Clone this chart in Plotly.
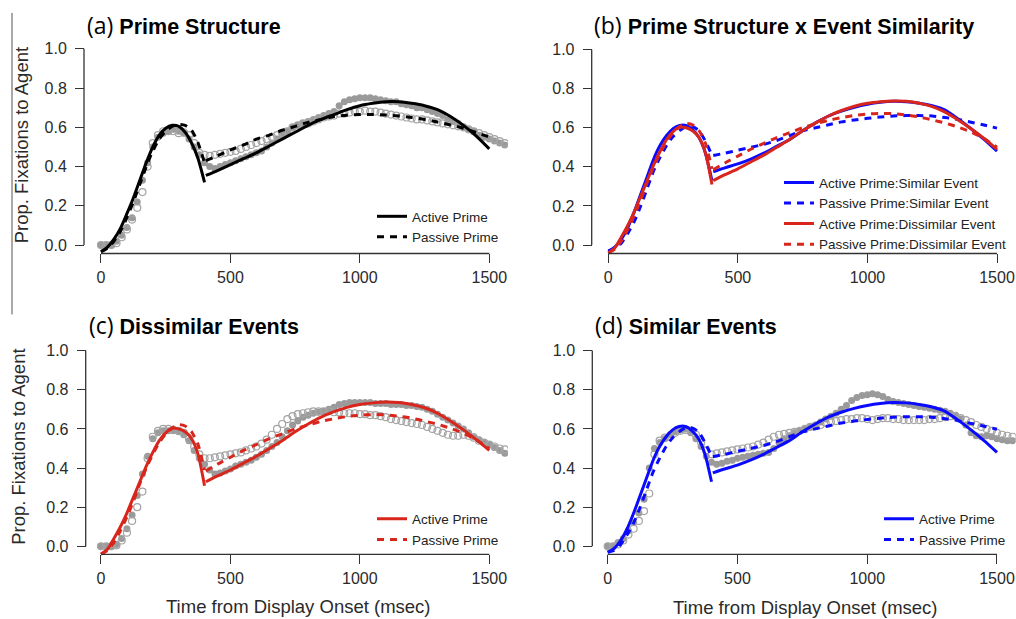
import plotly.graph_objects as go

W, H = 1016, 619

# ---------------- data ----------------
# model-fit time grid (two growth-curve segments, before / after 400 ms)
t_early = [0, 25, 50, 75, 100, 125, 150, 175, 200, 225, 250, 275, 300, 325, 350, 375, 400]
t_late = [405, 450, 500, 550, 600, 650, 700, 750, 800, 850, 900, 950, 1000,
          1050, 1100, 1150, 1200, 1250, 1300, 1350, 1400, 1450, 1500]

# (a) overall
active_all_early = [-0.034, -0.01, 0.03, 0.085, 0.16, 0.24, 0.33, 0.42, 0.50, 0.56, 0.595, 0.61, 0.605, 0.575, 0.52, 0.44, 0.32]
active_all_late = [0.355, 0.38, 0.41, 0.44, 0.47, 0.505, 0.54, 0.575, 0.61, 0.64, 0.665, 0.69, 0.71, 0.722, 0.73, 0.73, 0.722, 0.71, 0.69, 0.655, 0.61, 0.555, 0.49]
passive_all_early = [-0.034, -0.015, 0.02, 0.07, 0.14, 0.22, 0.31, 0.40, 0.48, 0.54, 0.58, 0.605, 0.615, 0.61, 0.585, 0.52, 0.42]
passive_all_late = [0.43, 0.455, 0.485, 0.51, 0.54, 0.56, 0.585, 0.605, 0.625, 0.64, 0.655, 0.662, 0.665, 0.665, 0.663, 0.658, 0.65, 0.64, 0.627, 0.612, 0.595, 0.573, 0.55]

# similar events
active_sim_early = [-0.03, -0.01, 0.03, 0.09, 0.17, 0.26, 0.35, 0.44, 0.51, 0.56, 0.595, 0.612, 0.612, 0.59, 0.55, 0.47, 0.33]
active_sim_late = [0.375, 0.395, 0.415, 0.44, 0.47, 0.505, 0.54, 0.585, 0.625, 0.66, 0.685, 0.705, 0.72, 0.73, 0.735, 0.733, 0.725, 0.712, 0.69, 0.645, 0.595, 0.54, 0.48]
passive_sim_early = [-0.03, -0.02, 0.01, 0.06, 0.12, 0.20, 0.29, 0.38, 0.45, 0.51, 0.555, 0.585, 0.605, 0.605, 0.585, 0.53, 0.46]
passive_sim_late = [0.458, 0.47, 0.485, 0.50, 0.515, 0.535, 0.56, 0.585, 0.60, 0.615, 0.63, 0.64, 0.648, 0.655, 0.66, 0.662, 0.662, 0.66, 0.652, 0.642, 0.628, 0.614, 0.598]

# dissimilar events
active_dis_early = [-0.04, -0.015, 0.04, 0.10, 0.17, 0.25, 0.33, 0.41, 0.48, 0.54, 0.58, 0.603, 0.60, 0.585, 0.55, 0.47, 0.31]
active_dis_late = [0.33, 0.36, 0.39, 0.425, 0.46, 0.50, 0.54, 0.585, 0.625, 0.66, 0.688, 0.71, 0.725, 0.733, 0.737, 0.735, 0.725, 0.708, 0.68, 0.64, 0.595, 0.545, 0.49]
passive_dis_early = [-0.04, -0.02, 0.02, 0.08, 0.15, 0.23, 0.32, 0.40, 0.47, 0.53, 0.575, 0.605, 0.622, 0.615, 0.585, 0.52, 0.39]
passive_dis_late = [0.385, 0.42, 0.455, 0.49, 0.52, 0.55, 0.575, 0.60, 0.62, 0.638, 0.652, 0.663, 0.67, 0.673, 0.672, 0.665, 0.655, 0.64, 0.624, 0.603, 0.578, 0.545, 0.50]

# observed proportions (20 ms bins, 0..1560 ms)
t_points = list(range(0, 1561, 20))

obs_active_all = [
    0.0, 0.0, 0.0, 0.02, 0.05, 0.09, 0.14, 0.22, 0.33, 0.42,
    0.50, 0.55, 0.57, 0.58, 0.59, 0.58, 0.57, 0.54, 0.50, 0.46,
    0.42, 0.40, 0.39, 0.40, 0.41, 0.42, 0.43, 0.44, 0.45, 0.46,
    0.47, 0.48, 0.50, 0.52, 0.54, 0.56, 0.58, 0.60, 0.61, 0.62,
    0.63, 0.64, 0.65, 0.66, 0.67, 0.68, 0.71, 0.73, 0.74, 0.745,
    0.75, 0.75, 0.75, 0.745, 0.74, 0.735, 0.73, 0.73, 0.72, 0.715,
    0.71, 0.70, 0.70, 0.69, 0.68, 0.67, 0.66, 0.64, 0.63, 0.62,
    0.60, 0.59, 0.58, 0.56, 0.55, 0.54, 0.53, 0.52, 0.51]
obs_passive_all = [
    0.0, 0.0, 0.0, 0.01, 0.04, 0.08, 0.13, 0.19, 0.27, 0.40,
    0.52, 0.56, 0.58, 0.58, 0.58, 0.57, 0.575, 0.56, 0.52, 0.47,
    0.46, 0.455, 0.46, 0.465, 0.47, 0.475, 0.48, 0.49, 0.50, 0.51,
    0.52, 0.53, 0.54, 0.55, 0.56, 0.57, 0.58, 0.60, 0.61, 0.62,
    0.62, 0.63, 0.64, 0.65, 0.655, 0.66, 0.67, 0.67, 0.675, 0.68,
    0.68, 0.685, 0.68, 0.68, 0.675, 0.67, 0.665, 0.66, 0.655, 0.65,
    0.645, 0.64, 0.64, 0.635, 0.63, 0.625, 0.62, 0.615, 0.61, 0.605,
    0.60, 0.59, 0.58, 0.57, 0.56, 0.55, 0.54, 0.53, 0.52]
obs_active_dis = [
    0.0, 0.0, 0.0, 0.01, 0.04, 0.09, 0.16, 0.26, 0.37, 0.46,
    0.55, 0.58, 0.59, 0.59, 0.59, 0.585, 0.57, 0.54, 0.49, 0.45,
    0.42, 0.39, 0.37, 0.375, 0.385, 0.395, 0.41, 0.42, 0.43, 0.44,
    0.455, 0.47, 0.49, 0.51, 0.53, 0.56, 0.59, 0.62, 0.64, 0.66,
    0.67, 0.68, 0.685, 0.69, 0.70, 0.71, 0.725, 0.73, 0.735, 0.735,
    0.735, 0.735, 0.735, 0.73, 0.73, 0.73, 0.725, 0.725, 0.725, 0.72,
    0.72, 0.715, 0.71, 0.70, 0.69, 0.675, 0.66, 0.645, 0.63, 0.615,
    0.60, 0.58, 0.56, 0.545, 0.53, 0.52, 0.505, 0.49, 0.475]
obs_passive_dis = [
    0.0, 0.0, 0.0, 0.005, 0.03, 0.07, 0.13, 0.20, 0.28, 0.45,
    0.56, 0.59, 0.60, 0.60, 0.595, 0.59, 0.58, 0.55, 0.51, 0.47,
    0.45, 0.45, 0.455, 0.46, 0.465, 0.47, 0.475, 0.48, 0.49, 0.50,
    0.51, 0.525, 0.545, 0.57, 0.60, 0.625, 0.65, 0.665, 0.675, 0.68,
    0.685, 0.69, 0.69, 0.69, 0.69, 0.685, 0.685, 0.68, 0.68, 0.68,
    0.675, 0.675, 0.67, 0.67, 0.665, 0.66, 0.65, 0.645, 0.64, 0.635,
    0.63, 0.625, 0.62, 0.61, 0.60, 0.59, 0.58, 0.57, 0.565, 0.565,
    0.57, 0.565, 0.555, 0.54, 0.53, 0.52, 0.51, 0.50, 0.495]
obs_active_sim = [
    0.0, 0.0, 0.02, 0.04, 0.08, 0.12, 0.17, 0.24, 0.40, 0.50,
    0.53, 0.55, 0.57, 0.585, 0.595, 0.60, 0.58, 0.55, 0.51, 0.46,
    0.43, 0.42, 0.425, 0.435, 0.44, 0.45, 0.455, 0.46, 0.465, 0.47,
    0.475, 0.48, 0.50, 0.53, 0.55, 0.565, 0.58, 0.59, 0.60, 0.61,
    0.62, 0.635, 0.65, 0.665, 0.68, 0.70, 0.72, 0.745, 0.76, 0.77,
    0.775, 0.78, 0.775, 0.765, 0.75, 0.74, 0.735, 0.73, 0.725, 0.72,
    0.715, 0.71, 0.705, 0.70, 0.695, 0.69, 0.68, 0.67, 0.65, 0.62,
    0.58, 0.565, 0.56, 0.565, 0.56, 0.55, 0.545, 0.54, 0.54]
obs_passive_sim = [
    0.0, 0.0, 0.01, 0.03, 0.06, 0.09, 0.13, 0.18, 0.27, 0.47,
    0.54, 0.555, 0.56, 0.58, 0.59, 0.595, 0.59, 0.57, 0.53, 0.49,
    0.47, 0.475, 0.48, 0.485, 0.49, 0.495, 0.50, 0.505, 0.51, 0.52,
    0.53, 0.545, 0.56, 0.57, 0.575, 0.58, 0.585, 0.59, 0.60, 0.61,
    0.615, 0.62, 0.63, 0.635, 0.64, 0.645, 0.65, 0.65, 0.655, 0.655,
    0.65, 0.645, 0.65, 0.655, 0.655, 0.65, 0.65, 0.645, 0.645, 0.645,
    0.645, 0.645, 0.65, 0.65, 0.655, 0.66, 0.665, 0.665, 0.655, 0.645,
    0.635, 0.62, 0.61, 0.60, 0.59, 0.58, 0.57, 0.565, 0.56]

x_ticks = [0, 500, 1000, 1500]
y_ticks = [0.0, 0.2, 0.4, 0.6, 0.8, 1.0]
y_ticktext = ["0.0", "0.2", "0.4", "0.6", "0.8", "1.0"]

titles = [("(a)", "Prime Structure"),
          ("(b)", "Prime Structure x Event Similarity"),
          ("(c)", "Dissimilar Events"),
          ("(d)", "Similar Events")]
y_title = "Prop. Fixations to Agent"
x_title = "Time from Display Onset (msec)"

# ---------------- styling / layout ----------------
FONT = "Liberation Sans, Arial, sans-serif"
BLACK = "#000000"
BLUE = "#0a0aff"
RED = "#d8261d"
GREY_FILL = "#9a9a9a"
GREY_OPEN = "#a4a4a4"
AX_COL = "#333333"
X_RANGE = [-60, 1572]
Y_RANGE = [-0.07, 1.03]

# pixel anchors of each panel: t=0, t=1500, v=0, v=1, y-axis x, x-axis y, title pos
panels = [
    dict(px0=101.0, px1=489.3, py0=243.3, py1=46.0, yax=84.0, xax=251.7, tx=85, ty=21.7),
    dict(px0=608.3, px1=997.0, py0=243.3, py1=46.7, yax=591.7, xax=251.7, tx=591.5, ty=21.7),
    dict(px0=101.0, px1=489.3, py0=546.0, py1=349.3, yax=85.7, xax=554.0, tx=87, ty=324),
    dict(px0=607.7, px1=997.0, py0=546.0, py1=349.3, yax=592.3, xax=554.0, tx=593, ty=324),
]


def x_domain(p):
    s = (p["px1"] - p["px0"]) / 1500.0
    return [(p["px0"] + X_RANGE[0] * s) / W, (p["px0"] + X_RANGE[1] * s) / W]


def y_domain(p):
    s = p["py0"] - p["py1"]
    bottom = p["py0"] - Y_RANGE[0] * s
    top = p["py0"] - Y_RANGE[1] * s
    return [(H - bottom) / H, (H - top) / H]


fig = go.Figure()


def add_points(vals, filled, k):
    sfx = "" if k == 1 else str(k)
    if filled:
        marker = dict(symbol="circle", size=7, color=GREY_FILL)
    else:
        marker = dict(symbol="circle-open", size=7, color=GREY_OPEN, line=dict(width=1.2, color=GREY_OPEN))
    fig.add_trace(go.Scatter(x=t_points, y=vals, mode="markers", marker=marker,
                             showlegend=False, hoverinfo="skip",
                             xaxis="x" + sfx, yaxis="y" + sfx))


def add_line(early, late, name, color, dashed, k):
    sfx = "" if k == 1 else str(k)
    fig.add_trace(go.Scatter(
        x=t_early + [None] + t_late, y=early + [None] + late,
        mode="lines", name=name,
        line=dict(color=color, width=3, dash="7px,6px" if dashed else "solid",
                  shape="spline", smoothing=0.6),
        xaxis="x" + sfx, yaxis="y" + sfx, legend="legend" + sfx))


# (a)
add_points(obs_active_all, True, 1)
add_points(obs_passive_all, False, 1)
add_line(active_all_early, active_all_late, "Active Prime", BLACK, False, 1)
add_line(passive_all_early, passive_all_late, "Passive Prime", BLACK, True, 1)
# (b)
add_line(active_sim_early, active_sim_late, "Active Prime:Similar Event", BLUE, False, 2)
add_line(passive_sim_early, passive_sim_late, "Passive Prime:Similar Event", BLUE, True, 2)
add_line(active_dis_early, active_dis_late, "Active Prime:Dissimilar Event", RED, False, 2)
add_line(passive_dis_early, passive_dis_late, "Passive Prime:Dissimilar Event", RED, True, 2)
# (c)
add_points(obs_active_dis, True, 3)
add_points(obs_passive_dis, False, 3)
add_line(active_dis_early, active_dis_late, "Active Prime", RED, False, 3)
add_line(passive_dis_early, passive_dis_late, "Passive Prime", RED, True, 3)
# (d)
add_points(obs_active_sim, True, 4)
add_points(obs_passive_sim, False, 4)
add_line(active_sim_early, active_sim_late, "Active Prime", BLUE, False, 4)
add_line(passive_sim_early, passive_sim_late, "Passive Prime", BLUE, True, 4)

layout = dict(width=W, height=H, margin=dict(l=0, r=0, t=0, b=0),
              paper_bgcolor="white", plot_bgcolor="white",
              font=dict(family=FONT, color="#222222"))
shapes = []
annotations = []

legend_pos = [(372, 199), (779, 165), (372, 503), (879, 503)]

for i, p in enumerate(panels):
    k = i + 1
    sfx = "" if k == 1 else str(k)
    layout["xaxis" + sfx] = dict(
        domain=x_domain(p), range=X_RANGE, anchor="free", position=(H - p["xax"]) / H,
        showgrid=False, zeroline=False, showline=False,
        tickvals=x_ticks, ticks="outside", ticklen=9, tickwidth=1.3, tickcolor=AX_COL,
        ticklabelstandoff=0,
        tickfont=dict(family=FONT, size=16, color="#2a2a2a"), fixedrange=True)
    layout["yaxis" + sfx] = dict(
        domain=y_domain(p), range=Y_RANGE, anchor="free", position=p["yax"] / W,
        showgrid=False, zeroline=False, showline=False,
        tickvals=y_ticks, ticktext=y_ticktext, ticks="outside", ticklen=9, tickwidth=1.3,
        ticklabelstandoff=5,
        tickcolor=AX_COL, tickfont=dict(family=FONT, size=16, color="#2a2a2a"), fixedrange=True)
    # R-style detached axis lines spanning the tick range
    shapes.append(dict(type="line", xref="x" + sfx, yref="paper",
                       x0=x_ticks[0], x1=x_ticks[-1],
                       y0=(H - p["xax"]) / H, y1=(H - p["xax"]) / H,
                       line=dict(color=AX_COL, width=1.3)))
    shapes.append(dict(type="line", xref="paper", yref="y" + sfx,
                       x0=p["yax"] / W, x1=p["yax"] / W,
                       y0=y_ticks[0], y1=y_ticks[-1],
                       line=dict(color=AX_COL, width=1.3)))
    lab, name = titles[i]
    annotations.append(dict(
        xref="paper", yref="paper", x=p["tx"] / W, y=(H - p["ty"]) / H,
        xanchor="left", yanchor="middle", showarrow=False,
        text='<span style="font-family:Open Sans;font-size:23px">' + lab + '</span> <b>' + name + '</b>',
        font=dict(family=FONT, size=21.5, color="#000000")))
    lx, ly = legend_pos[i]
    layout["legend" + sfx] = dict(
        x=lx / W, y=(H - ly) / H, xanchor="left", yanchor="top",
        bgcolor="rgba(0,0,0,0)", borderwidth=0,
        font=dict(family=FONT, size=13.5, color="#222222"),
        itemwidth=30, tracegroupgap=0)

# axis titles
for (x, y) in [(21.7, 143.3), (18.3, 445.7)]:
    annotations.append(dict(xref="paper", yref="paper", x=x / W, y=(H - y) / H,
                            xanchor="center", yanchor="middle", showarrow=False,
                            textangle=-90, text=y_title,
                            font=dict(family=FONT, size=18.5, color="#2a2a2a")))
for (x, y) in [(298, 606.0), (805.7, 607.0)]:
    annotations.append(dict(xref="paper", yref="paper", x=x / W, y=(H - y) / H,
                            xanchor="center", yanchor="middle", showarrow=False,
                            text=x_title,
                            font=dict(family=FONT, size=18.5, color="#2a2a2a")))

# thin vertical frame line at the far left of the upper row
shapes.append(dict(type="line", xref="paper", yref="paper",
                   x0=12 / W, x1=12 / W, y0=(H - 10) / H, y1=(H - 313) / H,
                   line=dict(color="#555555", width=1)))

layout["shapes"] = shapes
layout["annotations"] = annotations
fig.update_layout(**layout)
fig.write_html("out.html")
